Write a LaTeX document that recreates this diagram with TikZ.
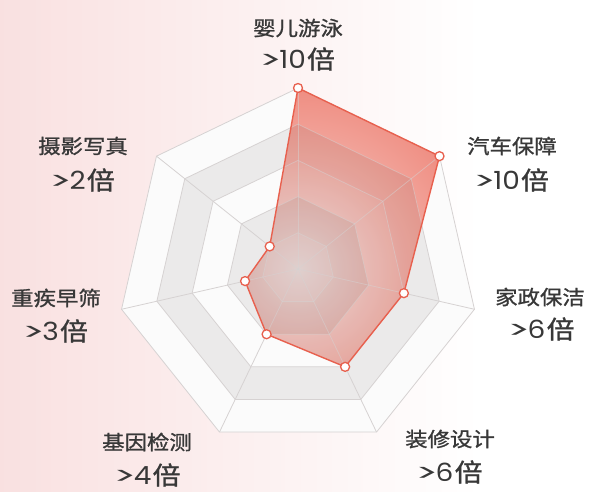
\documentclass[tikz,border=0pt]{standalone}
\usepackage{fontspec}
\usepackage{graphicx}
\newfontfamily\cjk[FakeBold=1]{Noto Sans CJK SC}
\newfontfamily\popfont{Poppins}
\usetikzlibrary{calc}
\definecolor{bgpink}{HTML}{F7D6D6}
\definecolor{bandgray}{HTML}{EBEAEA}
\definecolor{bandwhite}{HTML}{FBFBFB}
\definecolor{gridline}{HTML}{D6D2D2}
\definecolor{datared}{HTML}{E8604E}
\definecolor{datafill}{HTML}{EC7A6D}
\definecolor{datamid}{HTML}{F3ACA3}
\definecolor{datacore}{HTML}{FAE6E4}
\definecolor{txt}{HTML}{383838}
\pgfdeclareradialshading{datashade}{\pgfpoint{0bp}{0bp}}{color(0bp)=(datacore); color(9bp)=(datamid); color(19bp)=(datafill); color(50bp)=(datafill)}
\newcommand\heptpath[1]{($(C)+(-90:#1)$) -- ($(C)+(-38.5714:#1)$) -- ($(C)+(12.8571:#1)$) -- ($(C)+(64.2857:#1)$) -- ($(C)+(115.7143:#1)$) -- ($(C)+(167.1429:#1)$) -- ($(C)+(218.5714:#1)$) -- cycle}
\newcommand\labtext[1]{\scalebox{1.12}[1]{\cjk\fontsize{20}{20}\selectfont #1}}
\newcommand\valtext[1]{\scalebox{1.12}[1]{\fontsize{25}{25}\selectfont\popfont\kern-2pt\scalebox{1.55}[0.95]{>}\kern-2.5pt#1\kern1pt{\cjk 倍}}}
\tikzset{
  lab/.style={text=txt, inner sep=0pt},
  gridl/.style={draw=gridline, line width=0.8pt},
  marker/.style={circle, fill=white, draw=datared, line width=1.3pt, minimum size=9pt, inner sep=0pt},
}
\begin{document}
\begin{tikzpicture}[x=1pt,y=-1pt]
\useasboundingbox (0,0) rectangle (590,492);
\fill[white] (0,0) rectangle (590,492);
\shade[left color=bgpink, right color=white] (-160,0) rectangle (480,492);
\coordinate (C) at (298,269);
% bands
\fill[bandwhite] \heptpath{181};
\fill[bandgray] \heptpath{144.8};
\fill[bandwhite] \heptpath{108.6};
\fill[bandgray] \heptpath{72.4};
\fill[bandwhite] \heptpath{36.2};
\foreach \r in {181,144.8,108.6,72.4,36.2} { \draw[gridl] \heptpath{\r}; }
% outer vertices and spokes
\foreach \k/\a in {0/-90,1/-38.5714,2/12.8571,3/64.2857,4/115.7143,5/167.1429,6/218.5714} {
  \coordinate (o\k) at ($(C)+(\a:181)$);
  \draw[gridl] (C) -- (o\k);
}
% data points
\coordinate (d0) at ($(C)+(-90:181)$);
\coordinate (d1) at ($(C)+(-38.5714:181)$);
\coordinate (d2) at ($(C)+(12.8571:108.6)$);
\coordinate (d3) at ($(C)+(64.2857:108.6)$);
\coordinate (d4) at ($(C)+(115.7143:72.4)$);
\coordinate (d5) at ($(C)+(167.1429:54.3)$);
\coordinate (d6) at ($(C)+(218.5714:36.2)$);
\begin{scope}
  \clip (d0) -- (d1) -- (d2) -- (d3) -- (d4) -- (d5) -- (d6) -- cycle;
  \shade[shading=datashade] (C) circle (300);
  \fill[black, opacity=0.06] \heptpath{144.8};
  \fill[white, opacity=0.06] \heptpath{108.6};
  \fill[black, opacity=0.06] \heptpath{72.4};
  \fill[white, opacity=0.06] \heptpath{36.2};
  \begin{scope}[opacity=0.5]
  \foreach \r in {181,144.8,108.6,72.4,36.2} { \draw[gridl] \heptpath{\r}; }
  \foreach \k in {0,...,6} { \draw[gridl] (C) -- (o\k); }
  \end{scope}
\end{scope}
\draw[datared, line width=1.4pt, line join=round] (d0) -- (d1) -- (d2) -- (d3) -- (d4) -- (d5) -- (d6) -- cycle;
\foreach \k in {0,...,6} { \node[marker] (m\k) at (d\k) {}; }
% labels
\node[lab] (n0) at (298,28) {\labtext{婴儿游泳}};
\node[lab] (v0) at (298,59) {\valtext{10}};
\node[lab] (n1) at (512,146) {\labtext{汽车保障}};
\node[lab] (v1) at (512,180) {\valtext{10}};
\node[lab] (n2) at (540,297) {\labtext{家政保洁}};
\node[lab] (v2) at (542,329) {\valtext{6}};
\node[lab] (n3) at (450,439) {\labtext{装修设计}};
\node[lab] (v3) at (450,472) {\valtext{6}};
\node[lab] (n4) at (147,442) {\labtext{基因检测}};
\node[lab] (v4) at (148,475) {\valtext{4}};
\node[lab] (n5) at (56,298) {\labtext{重疾早筛}};
\node[lab] (v5) at (56,331) {\valtext{3}};
\node[lab] (n6) at (83,146) {\labtext{摄影写真}};
\node[lab] (v6) at (83,180) {\valtext{2}};
\end{tikzpicture}
\end{document}
